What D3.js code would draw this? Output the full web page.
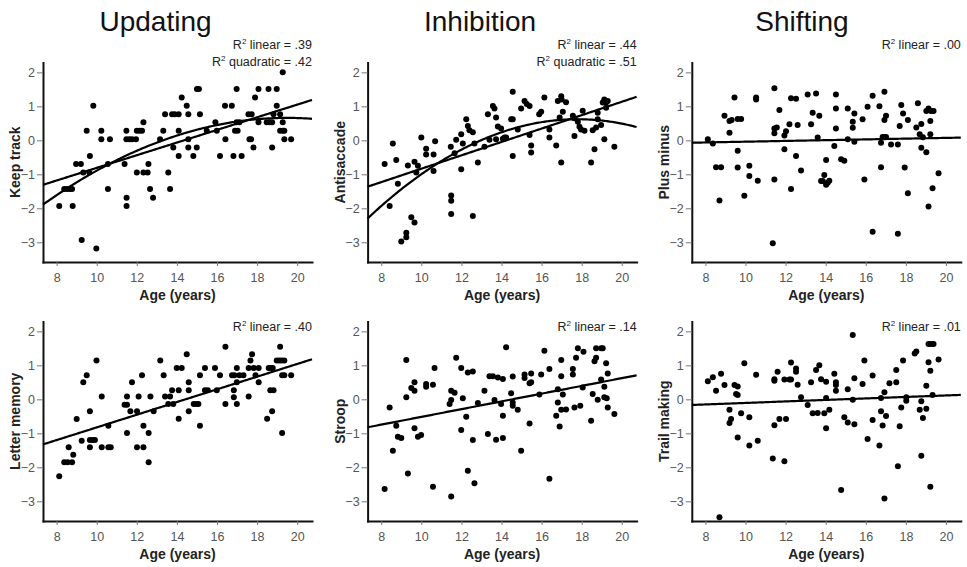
<!DOCTYPE html>
<html>
<head>
<meta charset="utf-8">
<script src="https://cdn.jsdelivr.net/npm/d3@7"></script>
<style>
  html, body { margin: 0; padding: 0; background: #fff; }
  svg { display: block; font-family: Arial, "Liberation Sans", sans-serif; }
</style>
</head>
<body>
<svg id="chart" width="967" height="567"></svg>
<script>
// ---------------- data ----------------
const ageTicks = [8, 10, 12, 14, 16, 18, 20];
const scoreTicks = [-3, -2, -1, 0, 1, 2];
const domainNames = ["Updating", "Inhibition", "Shifting"];
const taskNames = ["Keep track", "Antisaccade", "Plus minus", "Letter memory", "Stroop", "Trail making"];
const r2Linear = [".39", ".44", ".00", ".40", ".14", ".01"];
const r2Quadratic = [".42", ".51", null, null, null, null];

// fitted curves: linear [intercept, slope]; quadratic [c0, c1, c2]
const linearFits = [
  [-2.67, 0.186], [-2.806, 0.197], [-0.152, 0.0112],
  [-2.692, 0.1866], [-1.657, 0.114], [-0.326, 0.022]
];
const quadraticFits = [[-5.880, 0.6708, -0.0172], [-7.808, 0.947, -0.0266], null, null, null, null];

// [age, score]
const keepTrack = [[8.13,-1.93],[8.38,-1.43],[8.52,-1.43],[8.67,-1.43],[8.77,-1.43],[8.8,-1.93],[8.97,-0.70],[9.21,-0.70],[9.25,-2.93],[9.33,-0.95],[9.5,0.28],[9.63,-0.95],[9.66,-0.46],[9.83,1.02],[9.98,-3.18],[10.23,0.28],[10.23,0.03],[10.56,-0.70],[10.56,-1.43],[10.66,0.03],[11.39,-0.70],[11.48,0.28],[11.48,0.03],[11.49,-1.69],[11.49,-1.93],[11.63,0.03],[11.76,0.03],[11.96,0.03],[12.0,0.28],[12.13,0.28],[12.26,0.28],[12.33,0.53],[12.0,-0.95],[12.33,-0.95],[12.54,-0.95],[12.58,-0.70],[12.66,-1.43],[12.81,-1.69],[13.16,0.03],[13.32,0.28],[13.41,0.77],[13.57,-0.95],[13.66,-1.43],[13.76,0.77],[13.89,0.77],[14.09,0.77],[13.82,-0.21],[14.09,0.28],[14.09,-0.46],[14.24,1.26],[14.49,1.02],[14.57,0.77],[14.57,0.03],[14.57,-0.21],[14.82,-0.46],[14.99,-0.21],[15.15,0.77],[15.0,1.51],[15.1,1.51],[15.49,0.28],[15.92,0.53],[15.99,0.28],[16.15,-0.46],[16.4,1.02],[16.42,0.03],[16.74,1.02],[16.82,-0.46],[16.9,0.28],[17.03,0.28],[16.98,1.51],[16.98,0.53],[17.12,0.53],[17.23,-0.46],[17.57,0.77],[17.73,0.77],[17.62,0.03],[17.7,0.03],[17.82,-0.21],[17.9,1.26],[18.07,1.51],[18.07,0.53],[18.57,1.51],[18.48,0.53],[18.62,0.53],[18.75,0.53],[18.75,-0.21],[18.82,0.77],[18.98,1.51],[18.98,1.02],[19.15,0.77],[19.15,0.28],[19.28,0.28],[19.36,0.28],[19.28,0.53],[19.36,0.03],[19.7,0.03],[19.28,2.0]];

const antisaccade = [[8.17,-0.70],[8.42,-1.93],[8.58,-0.09],[8.75,-0.58],[8.83,-1.28],[9.0,-2.98],[9.25,-2.72],[9.25,-2.85],[9.33,-0.74],[9.5,-2.26],[9.66,-2.42],[9.66,-0.63],[9.75,-0.95],[9.83,-0.75],[10.0,0.08],[10.24,-0.25],[10.24,-0.42],[10.61,-0.42],[10.61,-0.90],[10.69,-0.03],[11.47,-0.19],[11.49,-1.62],[11.49,-1.78],[11.49,-2.17],[11.66,-0.38],[11.74,0.02],[11.99,0.18],[11.99,-0.85],[12.07,-0.09],[12.24,0.62],[12.32,0.42],[12.4,0.30],[12.57,0.24],[12.57,-2.23],[12.65,-0.09],[12.82,-0.65],[13.15,-0.19],[13.32,0.77],[13.4,0.02],[13.57,1.01],[13.65,0.94],[13.73,0.67],[13.73,0.03],[13.82,0.41],[13.98,0.35],[14.07,0.05],[14.15,0.08],[14.23,0.08],[14.48,0.62],[14.56,0.62],[14.56,1.43],[14.56,-0.46],[14.81,0.32],[14.98,0.94],[15.15,1.16],[15.26,1.07],[15.4,1.01],[15.4,0.16],[15.48,-0.15],[15.48,-0.36],[15.88,0.77],[15.98,0.84],[16.14,1.26],[16.39,0.32],[16.39,0.08],[16.73,-0.15],[16.81,1.16],[16.9,0.67],[16.98,1.30],[17.0,1.20],[16.98,-0.65],[17.06,0.84],[17.22,1.12],[17.56,0.72],[17.64,0.65],[17.64,0.13],[17.81,0.55],[17.89,0.40],[17.97,0.32],[18.05,0.87],[18.14,0.28],[18.47,-0.65],[18.55,0.30],[18.64,-0.26],[18.72,0.38],[18.8,0.81],[18.8,0.62],[18.97,0.45],[19.05,1.11],[19.13,1.20],[19.22,1.11],[19.3,1.16],[19.13,0.03],[19.22,0.96],[19.63,-0.19]];

const plusMinus = [[8.12,0.03],[8.37,-0.09],[8.53,-0.79],[8.78,-0.79],[8.7,-1.77],[8.95,0.72],[9.2,0.57],[9.31,0.60],[9.2,0.22],[9.45,1.26],[9.61,0.63],[9.78,0.63],[9.61,-0.31],[9.61,-0.80],[9.94,-1.63],[10.19,-0.75],[10.19,-1.05],[10.53,1.26],[10.53,1.20],[10.61,-1.19],[11.44,1.53],[11.44,0.35],[11.56,0.38],[11.44,0.21],[11.44,-1.15],[11.36,-3.03],[11.69,0.89],[11.94,0.14],[12.02,0.27],[11.94,-0.26],[12.19,0.47],[12.27,1.24],[12.52,1.22],[12.27,-1.43],[12.52,-0.46],[12.6,0.45],[12.77,-0.89],[13.1,1.35],[13.27,0.47],[13.35,0.81],[13.52,1.38],[13.6,0.08],[13.68,0.72],[13.77,-1.20],[13.85,-1.20],[13.93,-1.02],[14.02,-1.31],[14.1,-1.25],[14.18,-1.19],[14.02,-0.58],[14.51,1.35],[14.51,0.94],[14.51,0.35],[14.43,-0.17],[14.77,-0.56],[14.93,-0.60],[15.1,0.94],[15.1,0.03],[15.35,0.55],[15.35,0.37],[15.43,0.79],[15.43,-0.04],[15.84,0.62],[15.93,-1.15],[16.09,0.99],[16.34,1.31],[16.34,-2.69],[16.68,1.00],[16.76,-0.07],[16.76,-0.79],[16.84,0.10],[16.93,0.10],[17.01,0.10],[16.93,1.43],[16.93,0.60],[17.01,0.72],[17.26,-0.12],[17.6,-0.12],[17.6,-2.75],[17.69,0.42],[17.77,1.04],[17.86,0.79],[17.94,-0.80],[18.1,0.60],[18.1,-1.56],[18.6,1.09],[18.52,0.38],[18.69,0.18],[18.77,0.48],[18.77,-0.22],[18.85,0.09],[19.02,-0.35],[19.02,0.86],[19.13,0.94],[19.25,0.86],[19.38,0.86],[19.22,0.57],[19.22,0.18],[19.13,-1.95],[19.33,-1.41],[19.63,-0.97]];

const letterMemory = [[8.13,-2.26],[8.38,-1.85],[8.55,-1.85],[8.6,-1.41],[8.77,-1.85],[8.83,-1.63],[9.0,-0.58],[9.25,-1.22],[9.33,0.50],[9.5,0.71],[9.66,-0.35],[9.66,-1.41],[9.66,-1.20],[9.8,-1.20],[9.91,-1.20],[9.99,1.14],[10.25,0.08],[10.25,-1.41],[10.58,-0.78],[10.58,-1.41],[10.7,-1.41],[11.39,-0.16],[11.51,-0.16],[11.51,0.08],[11.51,-0.99],[11.68,-0.35],[11.76,0.50],[12.01,-0.35],[12.01,-1.41],[12.09,0.08],[12.26,0.71],[12.33,-0.78],[12.33,-1.41],[12.59,-0.99],[12.59,-1.85],[12.68,0.08],[12.84,-0.35],[13.17,1.14],[13.34,0.71],[13.41,0.08],[13.66,0.08],[13.57,-0.14],[13.82,-0.14],[13.76,0.27],[13.99,0.92],[14.24,0.92],[14.09,0.27],[14.09,-0.57],[14.49,1.33],[14.59,0.50],[14.59,0.27],[14.59,-0.35],[14.84,-0.14],[14.96,-0.14],[15.07,-0.14],[15.15,0.71],[15.15,-0.78],[15.4,0.92],[15.4,0.27],[15.54,0.27],[15.9,0.92],[15.99,0.27],[16.15,0.71],[16.42,1.55],[16.42,-0.14],[16.75,0.71],[16.87,0.71],[16.84,0.27],[16.84,0.06],[16.99,0.92],[16.99,0.50],[16.99,-0.14],[17.12,0.71],[17.32,0.71],[17.58,0.08],[17.58,0.92],[17.67,1.14],[17.75,1.33],[17.83,0.92],[17.92,0.71],[18.08,0.92],[18.08,0.50],[18.5,-0.57],[18.58,0.92],[18.7,0.92],[18.78,0.92],[18.66,0.27],[18.82,0.27],[18.75,-0.35],[18.98,1.14],[19.11,1.14],[19.23,1.14],[19.36,1.14],[19.15,1.55],[19.25,0.71],[19.36,0.71],[19.25,-0.99],[19.7,0.71]];

const stroop = [[8.17,-2.64],[8.42,-0.24],[8.58,-1.51],[8.75,-0.78],[8.83,-1.10],[9.0,-1.14],[9.25,1.16],[9.25,0.06],[9.33,-2.18],[9.5,0.33],[9.66,0.50],[9.66,0.25],[9.66,-0.85],[9.83,-1.10],[9.99,-1.05],[10.24,0.45],[10.24,0.37],[10.58,0.43],[10.66,0.92],[10.58,-2.57],[11.41,-0.14],[11.49,-0.02],[11.49,0.25],[11.66,0.19],[11.49,-2.86],[11.74,1.22],[11.99,0.92],[11.99,-0.90],[12.07,0.03],[12.24,-0.51],[12.32,0.79],[12.32,-2.10],[12.57,0.82],[12.57,-1.20],[12.65,-2.47],[12.82,-0.11],[13.15,0.25],[13.32,-1.02],[13.4,0.68],[13.57,0.68],[13.65,-0.02],[13.73,-1.19],[13.82,0.64],[14.07,0.60],[13.98,-0.14],[14.07,-0.48],[14.07,-1.14],[14.23,1.53],[14.48,0.18],[14.56,-0.09],[14.56,-0.19],[14.56,0.67],[14.81,-0.31],[14.98,-1.51],[15.15,0.73],[15.15,0.63],[15.4,-0.71],[15.4,0.47],[15.48,0.50],[15.48,0.76],[15.89,0.14],[15.98,0.73],[16.14,1.43],[16.39,-2.34],[16.39,0.89],[16.73,-0.48],[16.81,-0.09],[16.81,0.30],[16.9,-0.80],[16.98,1.16],[16.98,0.68],[16.98,-0.31],[17.06,0.14],[17.22,-0.30],[17.56,0.89],[17.56,0.73],[17.64,-0.24],[17.72,1.22],[17.81,1.50],[17.93,-0.19],[18.05,0.35],[18.09,1.40],[18.47,-0.63],[18.55,0.16],[18.64,1.12],[18.72,1.22],[18.72,1.50],[18.8,-0.01],[18.97,1.50],[18.97,0.58],[19.05,1.50],[19.13,0.37],[19.13,0.06],[19.25,0.03],[19.22,1.06],[19.3,0.76],[19.3,-0.24],[19.63,-0.43]];

const trailMaking = [[8.12,0.53],[8.37,0.65],[8.53,0.25],[8.78,0.75],[8.7,-3.47],[8.95,0.42],[9.2,-0.31],[9.2,-0.70],[9.28,-0.58],[9.45,0.42],[9.53,0.16],[9.61,0.38],[9.61,0.13],[9.61,-1.12],[9.78,-0.41],[9.94,1.06],[10.19,-0.53],[10.19,-1.36],[10.53,0.72],[10.61,-1.22],[11.36,-1.74],[11.44,0.59],[11.44,0.55],[11.44,-0.76],[11.6,0.81],[11.69,-0.58],[11.94,0.58],[12.02,-0.58],[11.94,-1.82],[12.19,0.58],[12.27,0.58],[12.27,1.08],[12.52,0.91],[12.52,0.81],[12.6,0.43],[12.77,0.06],[13.1,-0.17],[13.27,0.50],[13.35,-0.41],[13.52,0.86],[13.6,-0.40],[13.68,1.00],[13.77,0.59],[13.93,-0.41],[14.02,0.52],[14.02,0.04],[14.02,-0.85],[14.18,-0.31],[14.43,0.75],[14.51,0.50],[14.51,0.42],[14.51,0.25],[14.77,-2.67],[14.93,-0.53],[15.1,0.30],[15.1,-0.68],[15.35,1.89],[15.43,0.62],[15.35,-0.01],[15.43,-0.73],[15.84,0.45],[15.93,1.14],[16.09,-1.17],[16.34,0.70],[16.34,-0.61],[16.68,-1.36],[16.76,0.04],[16.76,-0.35],[16.84,-0.77],[16.93,0.21],[16.93,-2.92],[17.01,-0.49],[17.18,0.47],[17.52,0.86],[17.52,0.50],[17.6,-1.97],[17.69,-0.79],[17.77,-0.24],[17.86,1.14],[18.02,0.06],[18.02,-0.04],[18.44,1.35],[18.52,1.41],[18.69,-0.31],[18.77,-0.06],[18.77,-1.66],[18.85,-0.55],[19.02,0.40],[19.02,-0.28],[19.13,1.63],[19.25,1.63],[19.38,1.63],[19.13,1.09],[19.22,0.84],[19.22,-2.57],[19.33,0.13],[19.63,1.17]];

const taskData = [keepTrack, antisaccade, plusMinus, letterMemory, stroop, trailMaking];

// ---------------- layout ----------------
const svg = d3.select("#chart");
const colLeft = [43, 367.6, 691.8];
const titleX = [155.5, 480, 802];
const plotW = 269;
const rowTop = [62.5, 321.5];
const rowBottom = [262, 521];
const ageDomain = [7.32, 20.74];
const scoreDomain = [-3.58, 2.29];

// titles
domainNames.forEach((name, i) => {
  svg.append("text")
    .attr("x", titleX[i]).attr("y", 31)
    .attr("text-anchor", "middle")
    .attr("font-size", 28)
    .attr("fill", "#111")
    .text(name);
});

taskNames.forEach((task, idx) => {
  const col = idx % 3, row = Math.floor(idx / 3);
  const g = svg.append("g").attr("transform", `translate(${colLeft[col]},0)`);
  const x = d3.scaleLinear().domain(ageDomain).range([0, plotW]);
  const y = d3.scaleLinear().domain(scoreDomain).range([rowBottom[row], rowTop[row]]);

  // axes
  const xAxis = g.append("g")
    .attr("transform", `translate(0,${rowBottom[row]})`)
    .call(d3.axisBottom(x).tickValues(ageTicks).tickSize(4).tickSizeOuter(0).tickPadding(7));
  const yAxis = g.append("g")
    .call(d3.axisLeft(y).tickValues(scoreTicks).tickSize(6).tickSizeOuter(0).tickPadding(2)
      .tickFormat(d3.format("d")));
  [xAxis, yAxis].forEach(a => {
    a.select(".domain").attr("stroke", "#111").attr("stroke-width", 2).attr("stroke-linecap", "square");
    a.selectAll(".tick line").attr("stroke", "#777").attr("stroke-width", 1);
    a.selectAll(".tick text").attr("fill", "#555").attr("font-size", 12.5)
      .attr("font-family", "Arial, 'Liberation Sans', sans-serif");
  });

  // axis titles
  g.append("text")
    .attr("x", plotW / 2).attr("y", rowBottom[row] + 38)
    .attr("text-anchor", "middle").attr("font-weight", "bold").attr("font-size", 14)
    .attr("fill", "#222")
    .text("Age (years)");
  g.append("text")
    .attr("transform", "rotate(-90)")
    .attr("x", -(rowTop[row] + rowBottom[row]) / 2).attr("y", -23)
    .attr("text-anchor", "middle").attr("font-weight", "bold").attr("font-size", 14)
    .attr("fill", "#222")
    .text(task);

  // points
  g.append("g").selectAll("circle")
    .data(taskData[idx]).join("circle")
    .attr("cx", d => x(d[0])).attr("cy", d => y(d[1]))
    .attr("r", 3).attr("fill", "#000");

  // fit lines
  const xs = d3.range(0, 201).map(i => ageDomain[0] + (ageDomain[1] - ageDomain[0]) * i / 200);
  const lineGen = d3.line().x(d => x(d[0])).y(d => y(d[1]));
  const lf = linearFits[idx];
  g.append("path")
    .datum(xs.map(a => [a, lf[0] + lf[1] * a]))
    .attr("d", lineGen).attr("fill", "none").attr("stroke", "#000").attr("stroke-width", 2.2);
  const qf = quadraticFits[idx];
  if (qf) {
    g.append("path")
      .datum(xs.map(a => [a, qf[0] + qf[1] * a + qf[2] * a * a]))
      .attr("d", lineGen).attr("fill", "none").attr("stroke", "#000").attr("stroke-width", 2.2);
  }

  // R² annotations
  const r2Lines = [["linear", r2Linear[idx]]];
  if (r2Quadratic[idx]) r2Lines.push(["quadratic", r2Quadratic[idx]]);
  const baseY = row === 0 ? 49 : 331;
  r2Lines.forEach((l, k) => {
    const t = g.append("text")
      .attr("x", plotW).attr("y", baseY + k * 17)
      .attr("text-anchor", "end").attr("font-size", 12.5).attr("fill", "#222");
    t.append("tspan").text("R");
    t.append("tspan").attr("font-size", 8).attr("dy", -5).text("2");
    t.append("tspan").attr("dy", 5).text(` ${l[0]} = ${l[1]}`);
  });
});
</script>
</body>
</html>
